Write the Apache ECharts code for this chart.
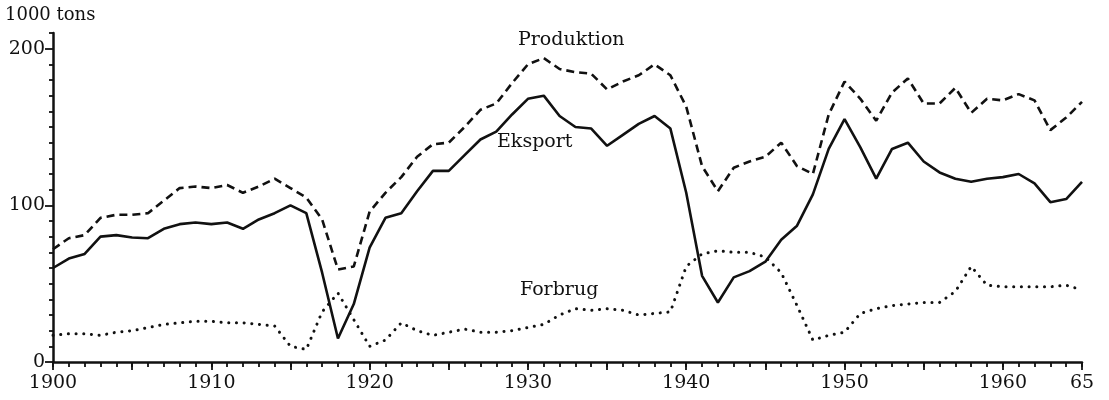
<!DOCTYPE html>
<html>
<head>
<meta charset="utf-8">
<script src="https://cdn.jsdelivr.net/npm/echarts@6/dist/echarts.min.js"></script>
<style>
  html, body { margin: 0; padding: 0; background: #fff; }
  #chart { width: 1109px; height: 400px; }
</style>
</head>
<body>
<div id="chart"></div>
<script>
// years 1900..1965, values in 1000 tons
const startYear = 1900;
const produktion = [
  72, 79, 81, 92, 94, 94, 95, 103, 111, 112,
  111, 113, 108, 112, 117, 111, 105, 91, 59, 61,
  96, 108, 118, 131, 139, 140, 150, 161, 165, 178,
  190, 194, 187, 185, 184, 174, 179, 183, 190, 183,
  163, 125, 109, 124, 128, 131, 140, 125, 120, 158,
  179, 168, 154, 172, 181, 165, 165, 175, 159, 168,
  167, 171, 167, 148, 156, 166
];
const eksport = [
  60, 66, 69, 80, 81, 79.5, 79, 85, 88, 89,
  88, 89, 85, 91, 95, 100, 95, 57, 15, 37,
  73, 92, 95, 109, 122, 122, 132, 142, 147, 158,
  168, 170, 157, 150, 149, 138, 145, 152, 157, 149,
  108, 55, 38, 54, 58, 64, 78, 87, 107, 136,
  155, 137, 117, 136, 140, 128, 121, 117, 115, 117,
  118, 120, 114, 102, 104, 115
];
const forbrug = [
  17, 18, 18, 17, 19, 20, 22, 24, 25, 26,
  26, 25, 25, 24, 23, 10, 8, 32, 44, 27,
  10, 14, 25, 20, 17, 19, 21, 19, 19, 20,
  22, 24, 30, 34, 33, 34, 33, 30, 31, 32,
  61, 69, 71, 70, 70, 67, 57, 36, 14, 17,
  19, 31, 34, 36, 37, 38, 38, 45, 61, 49,
  48, 48, 48, 48, 49, 46
];
const xLabelYears = [1900, 1910, 1920, 1930, 1940, 1950, 1960, 1965];
const yLabels = [0, 100, 200];

const font = 'DejaVu Serif';
const ink = '#111';

function pairs(arr) {
  return arr.map((v, i) => [startYear + i, v]);
}

// tick helpers
const fiveYearTicks = [];
for (let y = 1900; y <= 1965; y += 5) fiveYearTicks.push(y);
const minorY = [];
for (let v = 10; v <= 210; v += 10) if (v % 100 !== 0) minorY.push(v);

const chart = echarts.init(document.getElementById('chart'));

const options = {
  animation: false,
  backgroundColor: '#fff',
  grid: { left: 53, right: 27, top: 33, bottom: 38 },
  xAxis: [
    {
      type: 'value', min: 1900, max: 1965, interval: 1, position: 'bottom',
      axisLine: { lineStyle: { color: ink, width: 2.5 } },
      axisTick: { length: 8, customValues: fiveYearTicks, lineStyle: { color: ink, width: 1.8 } },
      axisLabel: {
        customValues: xLabelYears, margin: 12,
        fontFamily: font, fontSize: 19, color: ink,
        formatter: (v) => (v === 1965 ? '65' : String(v))
      },
      splitLine: { show: false }
    },
    {
      type: 'value', min: 1900, max: 1965, interval: 1, position: 'bottom',
      axisLine: { show: false },
      axisTick: { length: 5, lineStyle: { color: ink, width: 1.8 } },
      axisLabel: { show: false },
      splitLine: { show: false }
    }
  ],
  yAxis: [
    {
      type: 'value', min: 0, max: 210,
      axisLine: { show: true, lineStyle: { color: ink, width: 2.5 } },
      axisTick: { show: true, length: 8, customValues: yLabels, lineStyle: { color: ink, width: 1.8 } },
      axisLabel: { customValues: yLabels, margin: 8, fontFamily: font, fontSize: 19, color: ink },
      splitLine: { show: false }
    },
    {
      type: 'value', min: 0, max: 210, position: 'left',
      axisLine: { show: false },
      axisTick: { show: true, length: 4, customValues: minorY, lineStyle: { color: ink, width: 1.8 } },
      axisLabel: { show: false },
      splitLine: { show: false }
    }
  ],
  series: [
    {
      name: 'Produktion', type: 'line', data: pairs(produktion),
      showSymbol: false, lineStyle: { color: ink, width: 2.6, type: [8, 5] }
    },
    {
      name: 'Eksport', type: 'line', data: pairs(eksport),
      showSymbol: false, lineStyle: { color: ink, width: 2.6 }
    },
    {
      name: 'Forbrug', type: 'line', data: pairs(forbrug),
      showSymbol: false, lineStyle: { color: ink, width: 3, type: [0.1, 7.6], cap: 'round' }
    }
  ],
  graphic: [
    { type: 'text', left: 5, top: 6, style: { text: '1000 tons', font: '18px "DejaVu Serif"', fill: ink } },
    { type: 'text', left: 518, top: 31, style: { text: 'Produktion', font: '19px "DejaVu Serif"', fill: ink } },
    { type: 'text', left: 497, top: 133, style: { text: 'Eksport', font: '19px "DejaVu Serif"', fill: ink } },
    { type: 'text', left: 520, top: 281, style: { text: 'Forbrug', font: '19px "DejaVu Serif"', fill: ink } }
  ]
};

chart.setOption(options);
</script>
</body>
</html>
